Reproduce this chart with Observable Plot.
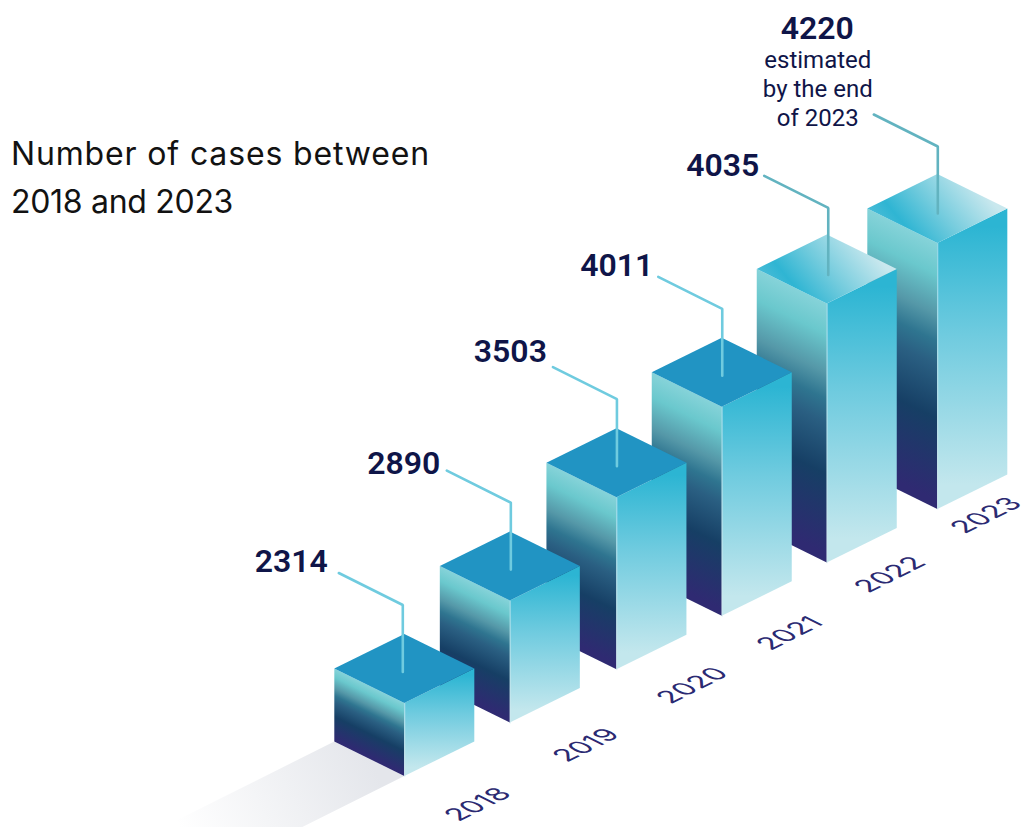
<!DOCTYPE html>
<html><head><meta charset="utf-8">
<script src="https://cdn.jsdelivr.net/npm/d3@7"></script>
<script src="https://cdn.jsdelivr.net/npm/@observablehq/plot@0.6"></script>
<style>
html,body{margin:0;padding:0;background:#fff;overflow:hidden}
#chart{position:relative;width:1024px;height:827px}
#title{position:absolute;left:11px;top:130px;font-family:Inter,sans-serif;font-size:32px;line-height:47.5px;color:#121212;white-space:nowrap}
#title span{display:block}
</style></head><body>
<div id="chart"><div id="title"><span style="letter-spacing:.85px">Number of cases between</span><span style="letter-spacing:-.3px">2018 and 2023</span></div></div>
<script>
const years = ["2018","2019","2020","2021","2022","2023"];
const cases = [2314,2890,3503,4011,4035,4220];
// apparent height of each column (not proportional to cases)
const levels = [73,122,172,209,259,266];
// position of each column along the ground line, in column steps
const slots = [0,0.99,1.99,2.978,3.963,5];
const estimateNote = "estimated\nby the end\nof 2023";

const base = {x:404.3, y:776, sx:106.6, sy:53.4, hw:70, hd:34.5};
const rows = years.map((year,i)=>{
  const fx = base.x + base.sx*slots[i], by = base.y - base.sy*i, ty = by - levels[i];
  return {year, i, cases:cases[i], fx, by, ty};
});
const onTop = r => r.i >= 4;
const lineColor = r => onTop(r) ? "#62b3c0" : "#6fcbdf";
// small optical adjustments of leaders and labels relative to their columns
const leaderDx = [-2,0.5,0,0,1,0], leaderDy = [0,0,0,0,2.5,1.5];
const labelDx = [-5,2,2,3,4], labelDy = [-1,4,-5,-1,3];
const yearDx = [0,6,10,5,3,-3], yearDy = [-1,-2,-3.5,2.5,2,1];

const faces = [...rows].reverse().flatMap(r=>{
  const L = r.fx-base.hw, R = r.fx+base.hw, t=r.ty, b=r.by, lx=r.fx+leaderDx[r.i], ld=leaderDy[r.i];
  return [
    Plot.areaY([{x:L,y1:b-base.hd,y2:t-base.hd},{x:r.fx,y1:b,y2:t}],{x:"x",y1:"y1",y2:"y2",fill:`url(#left${r.i})`,curve:"linear"}),
    Plot.areaY([{x:r.fx,y1:b,y2:t},{x:R,y1:b-base.hd,y2:t-base.hd}],{x:"x",y1:"y1",y2:"y2",fill:"url(#right)",curve:"linear"}),
    Plot.areaY([{x:L,y1:t-base.hd,y2:t-base.hd},{x:r.fx,y1:t,y2:t-base.hd*2},{x:R,y1:t-base.hd,y2:t-base.hd}],{x:"x",y1:"y1",y2:"y2",fill:onTop(r)?"url(#top)":"#2194c3",curve:"linear"}),
    Plot.line([{x:r.fx,y:t},{x:r.fx,y:b}],{x:"x",y:"y",stroke:"#cfeaf0",strokeWidth:1,strokeOpacity:.6}),
    Plot.line([{x:lx-64,y:t-130.5+ld},{x:lx,y:t-98.5+ld},{x:lx,y:t-31.5+ld}],{x:"x",y:"y",stroke:lineColor(r),strokeWidth:2.6,strokeLinejoin:"miter",curve:"linear"})
  ];
});

const s0 = rows[0], L0 = s0.fx-base.hw, B0 = s0.by-base.hd;
const shadow = Plot.areaY([
  {x:L0-200,y1:B0+100,y2:B0+100},
  {x:s0.fx-200,y1:s0.by+100,y2:B0+100-(s0.fx-200-(L0-200))/2},
  {x:L0,y1:s0.by+100-(L0-s0.fx+200)/2,y2:B0},
  {x:s0.fx,y1:s0.by,y2:s0.by}
],{x:"x",y1:"y1",y2:"y2",fill:"url(#shadow)",curve:"linear"});

const textInk = "#0f1548";
const valueRows = rows.filter(r=>r.i<5);
const svg = Plot.plot({
  width:1024, height:827, margin:0,
  x:{domain:[0,1024],range:[0,1024],axis:null},
  y:{domain:[0,827],range:[0,827],axis:null},
  style:{background:"transparent"},
  marks:[
    shadow,
    ...faces,
    Plot.text(valueRows,{x:r=>r.fx-72+labelDx[r.i],y:r=>r.ty-141+labelDy[r.i],text:r=>String(r.cases),textAnchor:"end",lineAnchor:"middle",
      fontFamily:"Roboto",fontSize:32,fontWeight:600,fill:textInk}),
    Plot.text(rows.slice(5),{x:r=>r.fx-120.5,y:r=>r.ty-214.5,text:r=>String(r.cases),textAnchor:"middle",lineAnchor:"middle",
      fontFamily:"Roboto",fontSize:32,fontWeight:600,fill:textInk}),
    Plot.text(rows.slice(5),{x:r=>r.fx-120,y:r=>r.ty-155.5,text:()=>estimateNote,textAnchor:"middle",lineAnchor:"middle",lineHeight:1.2,
      fontFamily:"Roboto",fontSize:24,fontWeight:400,fill:textInk}),
    Plot.text(rows,{x:r=>477.5+102.3*r.i+yearDx[r.i],y:r=>805-58.2*r.i+yearDy[r.i],text:"year",rotate:-26.6,textAnchor:"middle",lineAnchor:"middle",
      fontFamily:"Inter",fontSize:27,fontWeight:400,fill:"#2b2a72"})
  ]
});
let defs = `<defs>
<linearGradient id="right" x1="0" y1="0" x2="0" y2="1">
<stop offset="0.06" stop-color="#2cb5d3"/><stop offset="0.42" stop-color="#6fcbdf"/><stop offset="0.92" stop-color="#c3e7ed"/></linearGradient>
<linearGradient id="top" x1="0.05" y1="0.65" x2="0.9" y2="0.3">
<stop offset="0" stop-color="#4abcd7"/><stop offset="0.18" stop-color="#2fb5d3"/><stop offset="0.5" stop-color="#72cbdd"/><stop offset="0.95" stop-color="#c9e8ee"/></linearGradient>
<linearGradient id="shadow" gradientUnits="userSpaceOnUse" x1="370" y1="759" x2="190" y2="849">
<stop offset="0" stop-color="#e4e6eb"/><stop offset="1" stop-color="#ffffff"/></linearGradient>`;
rows.forEach(r=>{
  const H = r.by-r.ty, lx=r.fx-base.hw, ly=r.ty-base.hd;
  defs += `<linearGradient id="left${r.i}" gradientUnits="userSpaceOnUse" x1="0" y1="0" x2="0" y2="${H}" gradientTransform="translate(${lx},${ly}) skewY(26.2)">
<stop offset="0" stop-color="#86d3d9"/><stop offset="0.12" stop-color="#6ac8cd"/><stop offset="0.27" stop-color="#5598a8"/><stop offset="0.37" stop-color="#2f7590"/><stop offset="0.46" stop-color="#2a5f82"/><stop offset="0.66" stop-color="#163f65"/><stop offset="0.97" stop-color="#2f2a72"/></linearGradient>`;
});
svg.insertAdjacentHTML("afterbegin", defs+"</defs>");
svg.querySelectorAll('text').forEach(t=>{
  const tr = t.getAttribute("transform") || "";
  if (tr.includes("rotate(")) t.setAttribute("transform", tr.replace(/rotate\([^)]*\)/, "matrix(0.894,-0.447,0.894,0.447,0,0)"));
});
svg.style.position="absolute"; svg.style.left="0"; svg.style.top="0";
document.getElementById("chart").prepend(svg);
</script>
</body></html>
